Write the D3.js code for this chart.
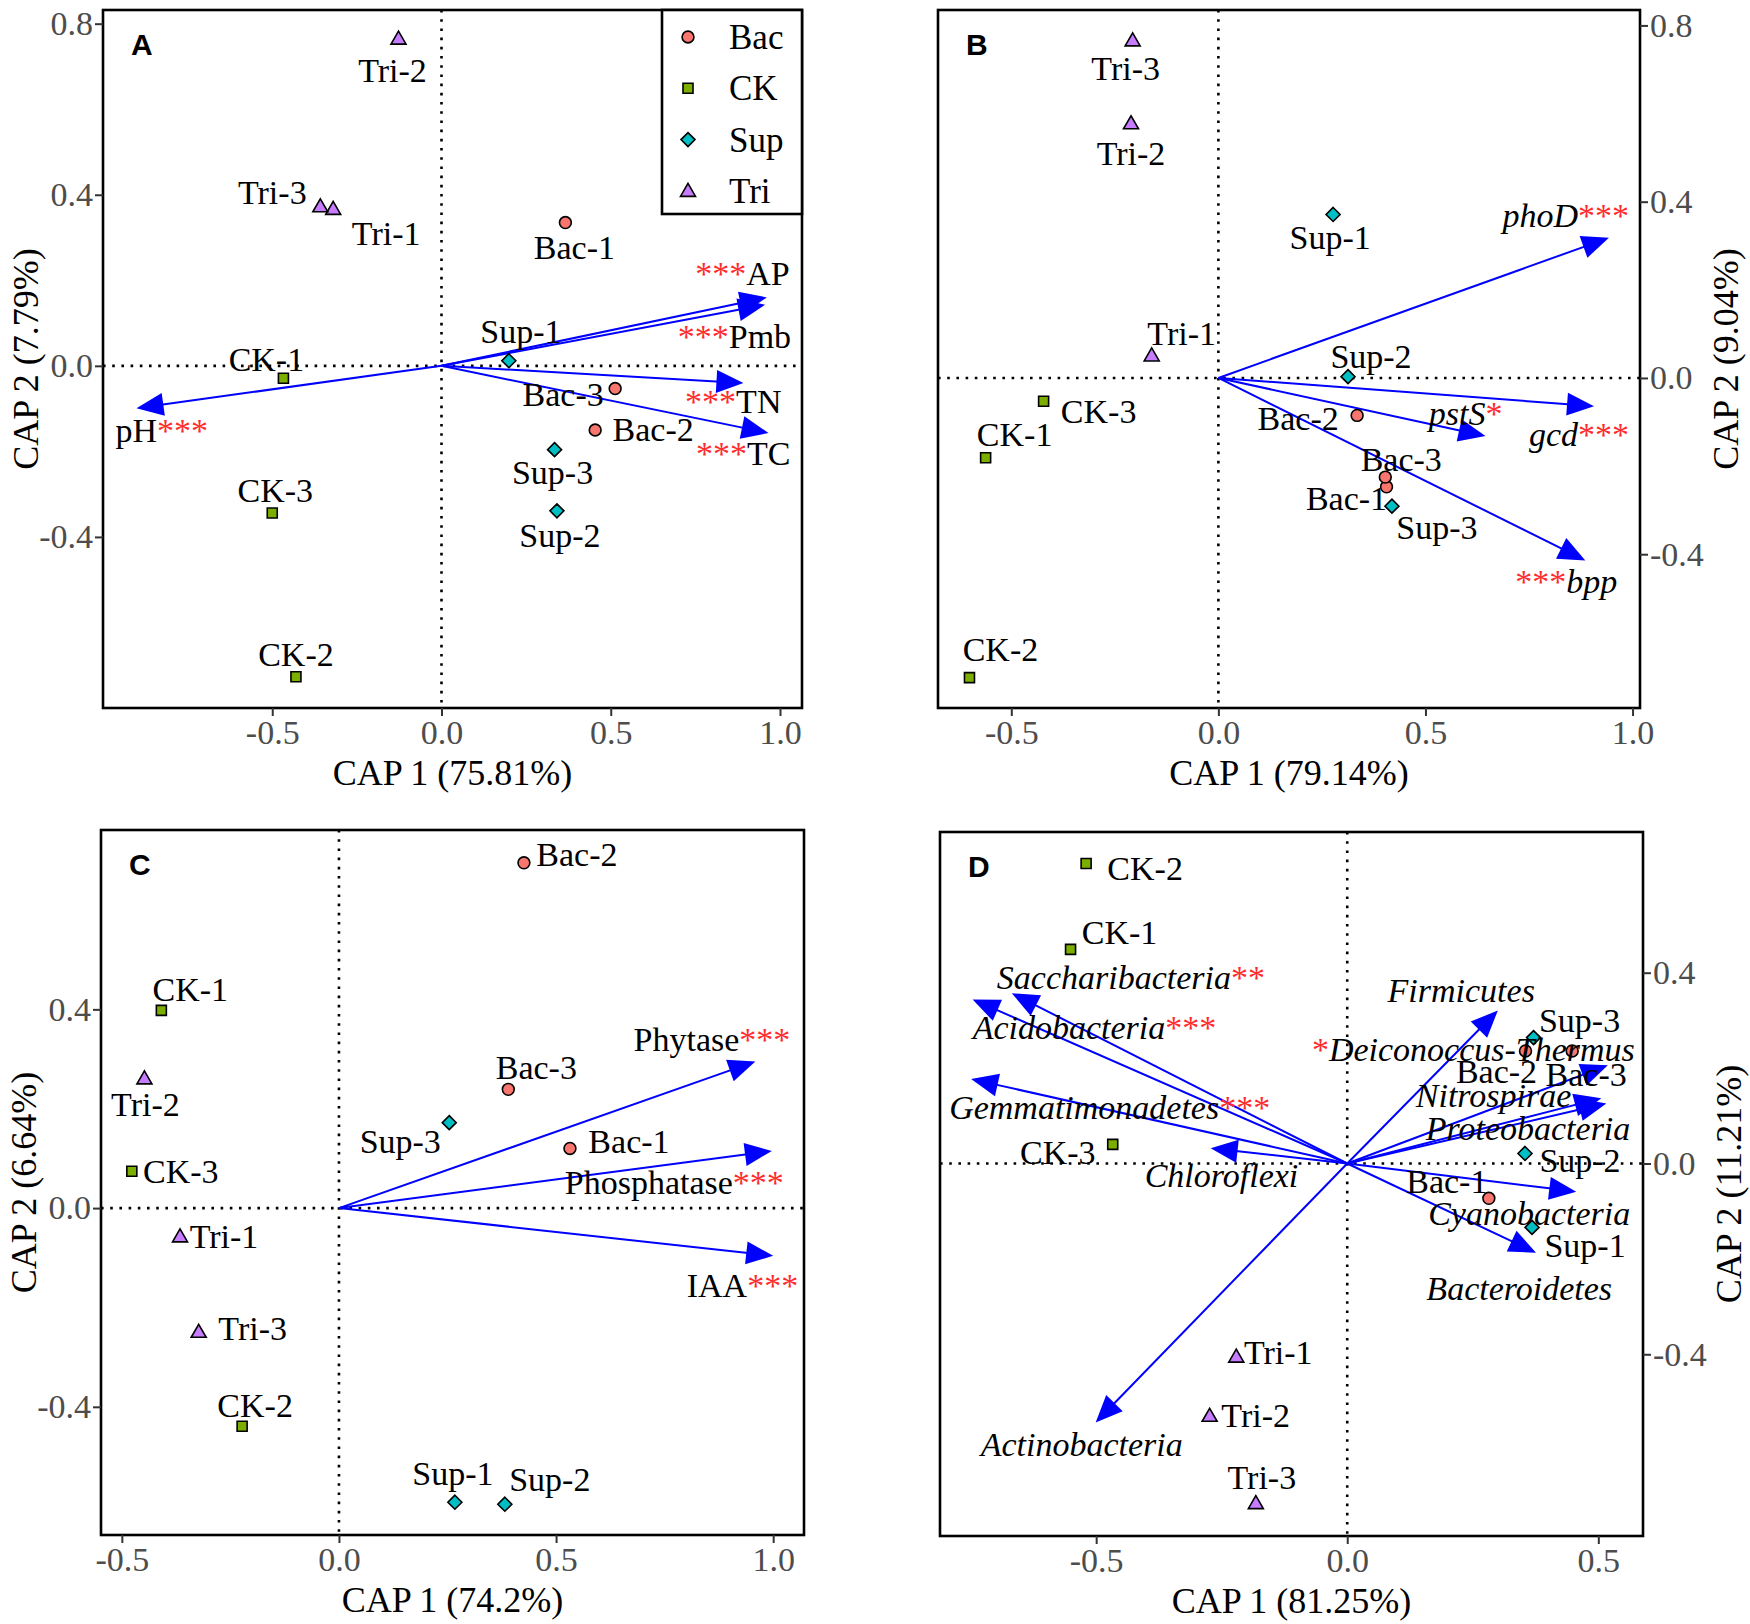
<!DOCTYPE html>
<html>
<head>
<meta charset="utf-8">
<script src="https://cdn.jsdelivr.net/npm/d3@7"></script>
<style>
  body { margin: 0; background: #fff; }
  svg { display: block; }
</style>
</head>
<body>
<svg id="chart" width="1750" height="1624"></svg>
<script>
// Sample order used by every panel
const sites = ['Bac-1', 'Bac-2', 'Bac-3', 'CK-1', 'CK-2', 'CK-3', 'Sup-1', 'Sup-2', 'Sup-3', 'Tri-1', 'Tri-2', 'Tri-3'];
const groups = ['Bac', 'CK', 'Sup', 'Tri'];

// Panel A - soil properties
const cap1A = [0.366, 0.454, 0.513, -0.467, -0.430, -0.500, 0.199, 0.341, 0.334, -0.320, -0.127, -0.358];
const cap2A = [0.335, -0.150, -0.053, -0.029, -0.727, -0.344, 0.012, -0.339, -0.196, 0.367, 0.765, 0.373];
const varsA = ['AP', 'Pmb', 'TN', 'TC', 'pH'];
const varCap1A = [0.961, 0.956, 0.892, 0.966, -0.901];
const varCap2A = [0.160, 0.143, -0.040, -0.157, -0.099];
const sigA = ['***', '***', '***', '***', '***'];

// Panel B - P genes
const cap1B = [0.406, 0.335, 0.403, -0.562, -0.601, -0.422, 0.277, 0.313, 0.419, -0.161, -0.211, -0.207];
const cap2B = [-0.247, -0.085, -0.225, -0.181, -0.680, -0.053, 0.371, 0.003, -0.291, 0.051, 0.578, 0.766];
const varsB = ['phoD', 'gcd', 'pstS', 'bpp'];
const varCap1B = [0.943, 0.907, 0.645, 0.886];
const varCap2B = [0.318, -0.064, -0.132, -0.414];
const sigB = ['***', '***', '*', '***'];

// Panel C - enzymes / IAA
const cap1C = [0.532, 0.426, 0.390, -0.409, -0.223, -0.477, 0.267, 0.382, 0.254, -0.366, -0.448, -0.323];
const cap2C = [0.120, 0.695, 0.239, 0.398, -0.439, 0.074, -0.592, -0.596, 0.172, -0.057, 0.261, -0.249];
const varsC = ['Phytase', 'Phosphatase', 'IAA'];
const varCap1C = [0.959, 0.997, 1.000];
const varCap2C = [0.295, 0.115, -0.096];
const sigC = ['***', '***', '***'];

// Panel D - bacterial phyla
const cap1D = [0.282, 0.355, 0.448, -0.551, -0.520, -0.467, 0.368, 0.354, 0.371, -0.221, -0.274, -0.182];
const cap2D = [-0.073, 0.236, 0.236, 0.449, 0.629, 0.040, -0.134, 0.021, 0.264, -0.405, -0.529, -0.712];
const varsD = ['Saccharibacteria', 'Acidobacteria', 'Gemmatimonadetes', 'Chloroflexi', 'Actinobacteria',
  'Firmicutes', 'Deiconoccus-Thermus', 'Nitrospirae', 'Proteobacteria', 'Cyanobacteria', 'Bacteroidetes'];
const varCap1D = [-0.668, -0.746, -0.749, -0.272, -0.501, 0.300, 0.519, 0.506, 0.516, 0.456, 0.376];
const varCap2D = [0.357, 0.344, 0.177, 0.032, -0.543, 0.321, 0.206, 0.137, 0.126, -0.059, -0.187];
const sigD = ['**', '***', '***', '', '', '', '*', '', '', '', ''];

const xTicks = [-0.5, 0.0, 0.5, 1.0];
const xTicksD = [-0.5, 0.0, 0.5];
const yTicks = [0.8, 0.4, 0.0, -0.4];
const yTicksCD = [0.4, 0.0, -0.4];

// Styles
const colors = { Bac: '#F8766D', CK: '#7CAE00', Sup: '#00BFC4', Tri: '#C77CFF' };
const serif = '"Liberation Serif", "Times New Roman", serif';
const arrowBlue = '#0000FF';
const starRed = '#FF2B2B';

// Label offsets (px) of sample names, same order as sites
const siteLabA = [[9, 25], [58, 0], [-52, 6], [-17, -19], [0, -22], [3, -22], [12, -29], [3, 25], [-2, 23], [53, 25], [-6, 32], [-48, -14]];
const siteLabB = [[-40, 12], [-59, 3], [16, -18], [29, -23], [31, -28], [55, 10], [-3, 23], [23, -20], [45, 21], [30, -22], [0, 30], [-7, 28]];
const siteLabC = [[59, -7], [53, -8], [28, -22], [29, -21], [13, -21], [49, 0], [-2, -29], [45, -25], [-49, 19], [44, 0], [1, 26], [54, -3]];
const siteLabD = [[-42, -17], [-29, 21], [14, 24], [49, -17], [59, 5], [-55, 8], [53, 18], [55, 7], [46, -17], [42, -4], [46, 0], [6, -26]];

// Arrow label placement: anchor, dx, dy (px from tip), stars before/after
const varLabA = [['end', 23, -24, 'pre'], ['end', 26, 32, 'pre'], ['end', 38, 19, 'pre'], ['end', 22, 21, 'pre'], ['start', -21, 22, 'post']];
const varLabB = [['end', 20, -22, 'post'], ['end', 35, 28, 'post'], ['end', 17, -23, 'post'], ['end', 32, 21, 'pre']];
const varLabC = [['end', 35, -22, 'post'], ['end', 12, 32, 'post'], ['end', 25, 30, 'post']];
const varLabD = [['start', -15, -16, 'post'], ['start', 0, 28, 'post'], ['start', -22, 28, 'post'], ['start', -66, 27, 'post'],
  ['start', -115, 22, 'post'], ['end', 37, -20, 'post'], ['end', 27, -16, 'pre'], ['end', -30, -3, 'post'],
  ['end', 24, 25, 'post'], ['end', 54, 22, 'post'], ['end', 76, 36, 'post']];

const panels = [
  { tag: 'A', x0: 103, x1: 802, y0: 10, y1: 708, xDomain: [-1.0, 1.065], yDomain: [-0.80, 0.832],
    xTicks: xTicks, yTicks: yTicks, ySide: 'left', xTitle: 'CAP 1 (75.81%)', yTitle: 'CAP 2 (7.79%)',
    cap1: cap1A, cap2: cap2A, siteLab: siteLabA, vars: varsA, v1: varCap1A, v2: varCap2A, sig: sigA, varLab: varLabA, italic: false, legend: true },
  { tag: 'B', x0: 938, x1: 1640, y0: 10, y1: 708, xDomain: [-0.677, 1.018], yDomain: [-0.749, 0.835],
    xTicks: xTicks, yTicks: yTicks, ySide: 'right', xTitle: 'CAP 1 (79.14%)', yTitle: 'CAP 2 (9.04%)',
    cap1: cap1B, cap2: cap2B, siteLab: siteLabB, vars: varsB, v1: varCap1B, v2: varCap2B, sig: sigB, varLab: varLabB, italic: true },
  { tag: 'C', x0: 101, x1: 804, y0: 830, y1: 1535, xDomain: [-0.548, 1.071], yDomain: [-0.658, 0.761],
    xTicks: xTicks, yTicks: yTicksCD, ySide: 'left', xTitle: 'CAP 1 (74.2%)', yTitle: 'CAP 2 (6.64%)',
    cap1: cap1C, cap2: cap2C, siteLab: siteLabC, vars: varsC, v1: varCap1C, v2: varCap2C, sig: sigC, varLab: varLabC, italic: false },
  { tag: 'D', x0: 940, x1: 1643, y0: 832, y1: 1536, xDomain: [-0.811, 0.589], yDomain: [-0.781, 0.695],
    xTicks: xTicksD, yTicks: yTicksCD, ySide: 'right', xTitle: 'CAP 1 (81.25%)', yTitle: 'CAP 2 (11.21%)',
    cap1: cap1D, cap2: cap2D, siteLab: siteLabD, vars: varsD, v1: varCap1D, v2: varCap2D, sig: sigD, varLab: varLabD, italic: true }
];

const svg = d3.select('#chart');

function groupOf(name) { return name.split('-')[0]; }

// ggplot-like point shapes 21-24
function shapePath(grp) {
  if (grp === 'Bac') return d3.symbol(d3.symbolCircle, 110)();
  if (grp === 'CK') return 'M-5,-5H5V5H-5Z';
  if (grp === 'Sup') return 'M0,-7L7,0L0,7L-7,0Z';
  return 'M0,-7.5L7.5,5.5L-7.5,5.5Z';
}

function drawPanel(p) {
  const g = svg.append('g');
  const x = d3.scaleLinear().domain(p.xDomain).range([p.x0, p.x1]);
  const y = d3.scaleLinear().domain(p.yDomain).range([p.y1, p.y0]);

  // dotted zero lines
  g.append('line').attr('x1', x(0)).attr('x2', x(0)).attr('y1', p.y0).attr('y2', p.y1)
    .attr('stroke', '#000').attr('stroke-width', 2.6).attr('stroke-dasharray', '2.6 6.6');
  g.append('line').attr('x1', p.x0).attr('x2', p.x1).attr('y1', y(0)).attr('y2', y(0))
    .attr('stroke', '#000').attr('stroke-width', 2.6).attr('stroke-dasharray', '2.6 6.6');

  // biplot arrows
  const ox = x(0), oy = y(0);
  p.vars.forEach((v, i) => {
    const ex = x(p.v1[i]), ey = y(p.v2[i]);
    const ang = Math.atan2(ey - oy, ex - ox);
    const L = 27, W = 11.5;
    const bx = ex - L * Math.cos(ang), by = ey - L * Math.sin(ang);
    const px = -Math.sin(ang) * W, py = Math.cos(ang) * W;
    g.append('line').attr('x1', ox).attr('y1', oy).attr('x2', bx + 4 * Math.cos(ang)).attr('y2', by + 4 * Math.sin(ang))
      .attr('stroke', arrowBlue).attr('stroke-width', 2);
    g.append('path').attr('d', `M${ex},${ey}L${bx + px},${by + py}L${bx - px},${by - py}Z`).attr('fill', arrowBlue);
  });

  // sample points
  g.selectAll('path.pt').data(sites).enter().append('path')
    .attr('class', 'pt')
    .attr('d', d => shapePath(groupOf(d)))
    .attr('transform', (d, i) => `translate(${x(p.cap1[i])},${y(p.cap2[i])})`)
    .attr('fill', d => colors[groupOf(d)])
    .attr('stroke', '#000').attr('stroke-width', 1.6);

  // sample labels
  g.selectAll('text.site').data(sites).enter().append('text')
    .attr('class', 'site')
    .attr('x', (d, i) => x(p.cap1[i]) + p.siteLab[i][0])
    .attr('y', (d, i) => y(p.cap2[i]) + p.siteLab[i][1] + 11.5)
    .attr('text-anchor', 'middle')
    .style('font-family', serif).style('font-size', '34px').attr('fill', '#000')
    .text(d => d);

  // arrow labels with significance stars
  p.vars.forEach((v, i) => {
    const lab = p.varLab[i];
    const t = g.append('text')
      .attr('x', x(p.v1[i]) + lab[1])
      .attr('y', y(p.v2[i]) + lab[2] + 11.5)
      .attr('text-anchor', lab[0])
      .style('font-family', serif).style('font-size', '34px');
    const addName = () => t.append('tspan').text(v).attr('fill', '#000').style('font-style', p.italic ? 'italic' : 'normal');
    const addStars = () => { if (p.sig[i]) t.append('tspan').text(p.sig[i]).attr('fill', starRed).style('font-style', 'normal'); };
    if (lab[3] === 'pre') { addStars(); addName(); } else { addName(); addStars(); }
  });

  // frame
  g.append('rect').attr('x', p.x0).attr('y', p.y0).attr('width', p.x1 - p.x0).attr('height', p.y1 - p.y0)
    .attr('fill', 'none').attr('stroke', '#000').attr('stroke-width', 2.6);

  // axes
  const fmt = d => d.toFixed(1);
  const xAxis = g.append('g').attr('transform', `translate(0,${p.y1})`)
    .call(d3.axisBottom(x).tickValues(p.xTicks).tickFormat(fmt).tickSize(8).tickPadding(4));
  const yAxis = p.ySide === 'left'
    ? g.append('g').attr('transform', `translate(${p.x0},0)`).call(d3.axisLeft(y).tickValues(p.yTicks).tickFormat(fmt).tickSize(8).tickPadding(2))
    : g.append('g').attr('transform', `translate(${p.x1},0)`).call(d3.axisRight(y).tickValues(p.yTicks).tickFormat(fmt).tickSize(8).tickPadding(2));
  [xAxis, yAxis].forEach(a => {
    a.select('.domain').remove();
    a.selectAll('.tick line').attr('stroke', '#333').attr('stroke-width', 2);
    a.selectAll('.tick text').attr('fill', '#4D4D4D').style('font-family', serif).style('font-size', '34px');
  });

  // axis titles
  g.append('text').attr('x', (p.x0 + p.x1) / 2).attr('y', p.y1 + 77)
    .attr('text-anchor', 'middle').style('font-family', serif).style('font-size', '36px').attr('fill', '#000')
    .text(p.xTitle);
  const ty = (p.y0 + p.y1) / 2;
  const tx = p.ySide === 'left' ? p.x0 - 78 : p.x1 + 85;
  g.append('text').attr('transform', `translate(${tx},${ty}) rotate(-90)`).attr('dy', '0.35em')
    .attr('text-anchor', 'middle').style('font-family', serif).style('font-size', '36px').attr('fill', '#000')
    .text(p.yTitle);

  // panel tag
  g.append('text').attr('x', p.x0 + 28).attr('y', p.y0 + 45)
    .style('font-family', '"Liberation Sans", Arial, sans-serif').style('font-weight', 'bold').style('font-size', '30px')
    .text(p.tag);

  // legend (panel A only)
  if (p.legend) {
    const lw = 140, lh = 204;
    const lg = g.append('g').attr('transform', `translate(${p.x1 - lw},${p.y0})`);
    lg.append('rect').attr('width', lw).attr('height', lh).attr('fill', '#fff').attr('stroke', '#000').attr('stroke-width', 2.6);
    groups.forEach((grp, k) => {
      const cy = 27 + k * 51.3;
      lg.append('path').attr('d', shapePath(grp)).attr('transform', `translate(26,${cy})`)
        .attr('fill', colors[grp]).attr('stroke', '#000').attr('stroke-width', 1.6);
      lg.append('text').attr('x', 67).attr('y', cy + 12).style('font-family', serif).style('font-size', '35px').text(grp);
    });
  }
}

panels.forEach(drawPanel);
</script>
</body>
</html>
